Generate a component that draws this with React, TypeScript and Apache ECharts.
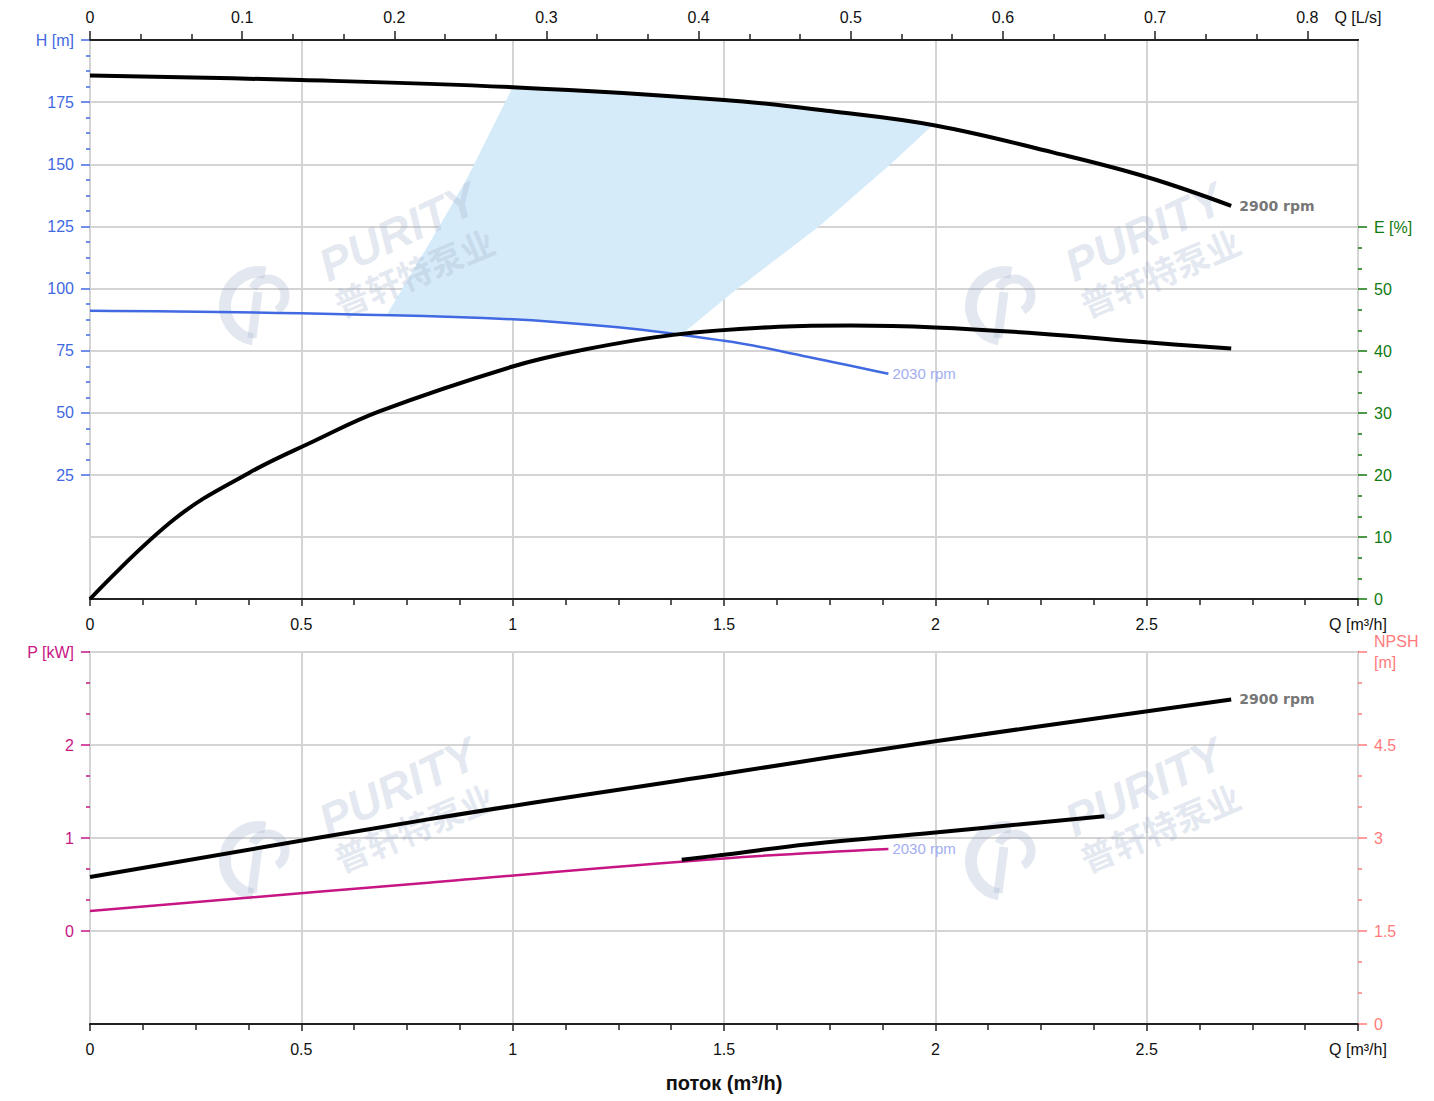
import React, { useEffect, useRef } from 'react';
import * as echarts from 'echarts';

// ---------- data ----------
const qLsTicks = [0, 0.1, 0.2, 0.3, 0.4, 0.5, 0.6, 0.7, 0.8];
const M3H_PER_LS = 3.6;

const h2900Q = [0, 0.5, 1.0, 1.5, 1.75, 2.0, 2.28, 2.5, 2.7];
const h2900H = [185.7, 183.9, 181.0, 175.9, 171.4, 165.6, 154.7, 144.9, 133.3];

const h2030Q = [0, 0.6, 1.1, 1.5, 1.7, 1.889];
const h2030H = [91.1, 89.7, 86.6, 79.0, 72.5, 65.7];

const effQ = [0, 0.2, 0.375, 0.528, 0.686, 1.0, 1.16, 1.38, 1.63, 1.8, 2.0, 2.25, 2.5, 2.7];
const effE = [0, 12.9, 20.3, 25.4, 30.3, 37.5, 40.1, 42.6, 43.9, 44.1, 43.8, 42.8, 41.4, 40.4];

const p2900Q = [0, 0.8, 1.5, 2.0, 2.7];
const p2900P = [0.58, 1.2, 1.69, 2.04, 2.49];

const p2030Q = [0, 0.8, 1.5, 1.889];
const p2030P = [0.215, 0.52, 0.78, 0.882];

const npshQ = [1.4, 1.5, 1.7, 2.0, 2.4];
const npshV = [2.65, 2.73, 2.9, 3.09, 3.35];

// shaded operating zone (Q m3/h, H m)
const shadeLeft = [[0.702, 89.5], [0.797, 116.5], [0.891, 144], [1.0, 181.0]];
const shadeTop = [[1.0, 181.0], [1.25, 178.8], [1.5, 175.9], [1.75, 171.4], [1.993, 165.6]];
const shadeRight = [[1.993, 165.6], [1.896, 150.3], [1.724, 124.9], [1.518, 98.1], [1.4, 81.6]];
const shadeBottom = [[1.4, 81.6], [1.3, 83.8], [1.1, 86.6], [0.9, 88.3], [0.702, 89.5]];

const pairs = (xs: number[], ys: number[]) => xs.map((x, i) => [x, ys[i]]);

const FONT = '"Liberation Sans", Arial, sans-serif';
const GRID_C = '#d4d4d4';
const AX_C = '#222';
const H_C = '#4169e1';
const E_C = '#0f7a0f';
const P_C = '#c71585';
const N_C = '#ff7b7b';
const LBL2030 = '#a3adf0';

export default function App() {
  const ref = useRef<HTMLDivElement>(null);
  useEffect(() => {
    const chart = echarts.init(ref.current!, null, { renderer: 'svg' });

    const lsMajor = qLsTicks.map((v) => v * M3H_PER_LS);
    const lsMinor: number[] = [];
    lsMajor.forEach((v) => {
      [1, 2].forEach((k) => {
        const m = v + (k * 0.1 * M3H_PER_LS) / 3;
        if (m < 3 - 1e-6) lsMinor.push(m);
      });
    });

    const shadePoly = [
      ...shadeLeft,
      ...shadeTop.slice(1),
      ...shadeRight.slice(1),
      ...shadeBottom.slice(1),
    ];

    const wmColor = 'rgba(150,170,200,0.27)';
    const watermark = (dx: number, dy: number) => ({
      type: 'group',
      x: dx,
      y: dy,
      silent: true,
      children: [
        {
          type: 'arc',
          z: 2,
          shape: { cx: 259, cy: 306, r: 34, startAngle: 1.75, endAngle: 4.9, clockwise: true },
          style: { stroke: wmColor, fill: null, lineWidth: 12 },
        },
        {
          type: 'arc',
          z: 2,
          shape: { cx: 268, cy: 296, r: 17, startAngle: 3.6, endAngle: 7.3, clockwise: true },
          style: { stroke: wmColor, fill: null, lineWidth: 9 },
        },
        {
          type: 'line',
          z: 2,
          shape: { x1: 252, y1: 338, x2: 258, y2: 292 },
          style: { stroke: wmColor, lineWidth: 9 },
        },
        {
          type: 'text',
          z: 2,
          x: 398,
          y: 232,
          rotation: 0.44,
          style: {
            text: 'PURITY',
            font: 'italic bold 46px "Liberation Sans", Arial, sans-serif',
            fill: wmColor,
            align: 'center',
            verticalAlign: 'middle',
            textAlign: 'center',
            textVerticalAlign: 'middle',
          },
        },
        {
          type: 'text',
          z: 2,
          x: 414,
          y: 272,
          rotation: 0.4,
          style: {
            text: '普轩特泵业',
            font: 'bold 34px "Noto Sans CJK SC", sans-serif',
            fill: wmColor,
            align: 'center',
            verticalAlign: 'middle',
            textAlign: 'center',
            textVerticalAlign: 'middle',
          },
        },
      ],
    });

    const hiddenX = (g: number) => ({ gridIndex: g, type: 'value', min: 0, max: 3, show: false });

    const lineBase = {
      type: 'line',
      smooth: 0.4,
      showSymbol: false,
      symbol: 'none',
      silent: true,
      z: 3,
    };

    const endLbl2900 = {
      show: true,
      formatter: '2900 rpm',
      color: '#777',
      fontWeight: 'bold',
      fontSize: 14,
      fontFamily: '"DejaVu Sans", sans-serif',
      distance: 8,
    };
    const endLbl2030 = {
      show: true,
      formatter: '2030 rpm',
      color: LBL2030,
      fontSize: 15,
      fontFamily: FONT,
      distance: 4,
    };

    const option: any = {
      animation: false,
      backgroundColor: '#fff',
      textStyle: { fontFamily: FONT },
      grid: [
        { left: 90, top: 40, width: 1268, height: 559, show: true, borderColor: AX_C, borderWidth: 2, backgroundColor: 'transparent' },
        { left: 90, top: 40, width: 1268, height: 435 },
        { left: 90, top: 227, width: 1268, height: 372 },
        { left: 90, top: 652, width: 1268, height: 372, show: true, borderColor: AX_C, borderWidth: 2, backgroundColor: 'transparent' },
        { left: 90, top: 652, width: 1268, height: 279 },
      ],
      xAxis: [
        {
          gridIndex: 0,
          type: 'value',
          position: 'bottom',
          min: 0,
          max: 3,
          interval: 0.5,
          axisLine: { show: true, onZero: false, lineStyle: { color: AX_C, width: 2 } },
          axisTick: { show: true, length: 7, lineStyle: { color: AX_C, width: 1.5 } },
          minorTick: { show: true, splitNumber: 4, length: 6, lineStyle: { color: AX_C, width: 1.5 } },
          axisLabel: {
            margin: 17,
            fontSize: 16,
            color: '#111',
            formatter: (v: number) => (v === 3 ? 'Q [m³/h]' : String(v)),
          },
          splitLine: { show: true, lineStyle: { color: GRID_C, width: 2 } },
        },
        {
          gridIndex: 0,
          type: 'value',
          position: 'top',
          min: 0,
          max: 3,
          axisLine: { show: true, onZero: false, lineStyle: { color: AX_C, width: 2 } },
          axisTick: { show: true, length: 9, customValues: lsMajor, lineStyle: { color: AX_C, width: 1.5 } },
          axisLabel: {
            margin: 15,
            fontSize: 16,
            color: '#111',
            customValues: [...lsMajor, 3],
            formatter: (v: number) =>
              Math.abs(v - 3) < 1e-9 ? 'Q [L/s]' : v === 0 ? '0' : (v / M3H_PER_LS).toFixed(1),
          },
          splitLine: { show: false },
        },
        {
          gridIndex: 0,
          type: 'value',
          position: 'top',
          min: 0,
          max: 3,
          axisLine: { show: false, onZero: false },
          axisTick: { show: true, length: 6, customValues: lsMinor, lineStyle: { color: AX_C, width: 1.5 } },
          axisLabel: { show: false },
          splitLine: { show: false },
        },
        hiddenX(1),
        hiddenX(2),
        {
          gridIndex: 3,
          type: 'value',
          position: 'bottom',
          min: 0,
          max: 3,
          interval: 0.5,
          axisLine: { show: true, onZero: false, lineStyle: { color: AX_C, width: 2 } },
          axisTick: { show: true, length: 7, lineStyle: { color: AX_C, width: 1.5 } },
          minorTick: { show: true, splitNumber: 4, length: 6, lineStyle: { color: AX_C, width: 1.5 } },
          axisLabel: {
            margin: 17,
            fontSize: 16,
            color: '#111',
            formatter: (v: number) => (v === 3 ? 'Q [m³/h]' : String(v)),
          },
          splitLine: { show: true, lineStyle: { color: GRID_C, width: 2 } },
        },
        hiddenX(4),
      ],
      yAxis: [
        { gridIndex: 0, type: 'value', min: 0, max: 1, show: false },
        {
          gridIndex: 1,
          type: 'value',
          position: 'left',
          min: 25,
          max: 200,
          interval: 25,
          axisLine: { show: false, onZero: false },
          axisTick: { show: true, length: 9, lineStyle: { color: H_C, width: 1.5 } },
          minorTick: { show: true, splitNumber: 4, length: 4, lineStyle: { color: H_C, width: 1.5 } },
          axisLabel: {
            margin: 16,
            fontSize: 16,
            color: H_C,
            formatter: (v: number) => (v === 200 ? 'H [m]' : String(v)),
          },
          splitLine: { show: true, lineStyle: { color: GRID_C, width: 2 } },
        },
        {
          gridIndex: 2,
          type: 'value',
          position: 'right',
          min: 0,
          max: 60,
          interval: 10,
          axisLine: { show: false, onZero: false },
          axisTick: { show: true, length: 9, lineStyle: { color: E_C, width: 1.5 } },
          minorTick: { show: true, splitNumber: 3, length: 4, lineStyle: { color: E_C, width: 1.5 } },
          axisLabel: {
            margin: 16,
            fontSize: 16,
            color: E_C,
            formatter: (v: number) => (v === 60 ? 'E [%]' : String(v)),
          },
          splitLine: { show: true, lineStyle: { color: GRID_C, width: 2 } },
        },
        {
          gridIndex: 3,
          type: 'value',
          position: 'right',
          min: 0,
          max: 6,
          interval: 1.5,
          axisLine: { show: false, onZero: false },
          axisTick: { show: true, length: 9, lineStyle: { color: N_C, width: 1.5 } },
          minorTick: { show: true, splitNumber: 3, length: 4, lineStyle: { color: N_C, width: 1.5 } },
          axisLabel: {
            margin: 16,
            fontSize: 16,
            color: N_C,
            lineHeight: 21,
            formatter: (v: number) => (v === 6 ? 'NPSH\n[m]' : String(v)),
          },
          splitLine: { show: true, lineStyle: { color: GRID_C, width: 2 } },
        },
        {
          gridIndex: 4,
          type: 'value',
          position: 'left',
          min: 0,
          max: 3,
          interval: 1,
          axisLine: { show: false, onZero: false },
          axisTick: { show: true, length: 9, lineStyle: { color: P_C, width: 1.5 } },
          minorTick: { show: true, splitNumber: 3, length: 4, lineStyle: { color: P_C, width: 1.5 } },
          axisLabel: {
            margin: 16,
            fontSize: 16,
            color: P_C,
            formatter: (v: number) => (v === 3 ? 'P [kW]' : String(v)),
          },
          splitLine: { show: false },
        },
      ],
      series: [
        {
          type: 'custom',
          xAxisIndex: 3,
          yAxisIndex: 1,
          z: 1,
          silent: true,
          data: [[1.5, 120]],
          renderItem: (_params: any, api: any) => ({
            type: 'polygon',
            shape: { points: shadePoly.map((p) => api.coord(p)) },
            style: { fill: '#d6ebf9', stroke: null },
          }),
        },
        {
          ...lineBase,
          name: 'H 2900',
          xAxisIndex: 3,
          yAxisIndex: 1,
          data: pairs(h2900Q, h2900H),
          lineStyle: { color: '#000', width: 4 },
          endLabel: endLbl2900,
        },
        {
          ...lineBase,
          name: 'H 2030',
          xAxisIndex: 3,
          yAxisIndex: 1,
          data: pairs(h2030Q, h2030H),
          lineStyle: { color: H_C, width: 2.5 },
          endLabel: endLbl2030,
        },
        {
          ...lineBase,
          name: 'E',
          xAxisIndex: 4,
          yAxisIndex: 2,
          data: pairs(effQ, effE),
          lineStyle: { color: '#000', width: 4 },
        },
        {
          ...lineBase,
          name: 'P 2900',
          xAxisIndex: 6,
          yAxisIndex: 4,
          data: pairs(p2900Q, p2900P),
          lineStyle: { color: '#000', width: 4 },
          endLabel: endLbl2900,
        },
        {
          ...lineBase,
          name: 'P 2030',
          xAxisIndex: 6,
          yAxisIndex: 4,
          data: pairs(p2030Q, p2030P),
          lineStyle: { color: P_C, width: 2.5 },
          endLabel: endLbl2030,
        },
        {
          ...lineBase,
          name: 'NPSH',
          xAxisIndex: 5,
          yAxisIndex: 3,
          data: pairs(npshQ, npshV),
          lineStyle: { color: '#000', width: 4 },
        },
      ],
      graphic: [
        watermark(0, 0),
        watermark(746, 0),
        watermark(0, 555),
        watermark(746, 555),
        {
          type: 'text',
          x: 724,
          y: 1083,
          silent: true,
          style: {
            text: 'поток (m³/h)',
            font: 'bold 20px "Liberation Sans", Arial, sans-serif',
            fill: '#111',
            align: 'center',
            verticalAlign: 'middle',
            textAlign: 'center',
            textVerticalAlign: 'middle',
          },
        },
      ],
    };

    chart.setOption(option);
    return () => chart.dispose();
  }, []);

  return (
    <div
      ref={ref}
      style={{ position: 'absolute', left: 0, top: 0, width: 1434, height: 1101, background: '#fff' }}
    />
  );
}
